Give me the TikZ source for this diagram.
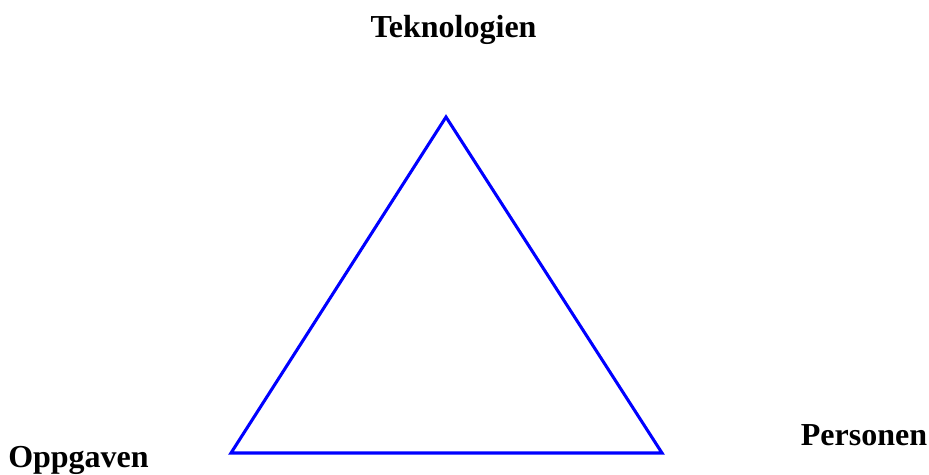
\documentclass[tikz,border=0pt]{standalone}
\usepackage{fontspec}
\setmainfont{Liberation Serif}
\begin{document}
\begin{tikzpicture}[
        x=0.75pt, y=-0.75pt,
        % Etiketter
        lbl/.style={
            anchor=base, inner sep=0pt,
            font=\fontsize{24}{28}\selectfont\bfseries
        },
        % Trekant
        tri/.style={draw=blue, line width=2.3pt, line join=miter}
    ]
        \useasboundingbox (0,0) rectangle (929,475);

        % Hjørner
        \coordinate (top) at (446,117);
        \coordinate (venstre) at (231,453);
        \coordinate (hoyre) at (662,453);

        % Tekster
        \node [lbl] (tek) at (453.5,37) {Teknologien};
        \node [lbl] (oppg) at (78.5,467) {Oppgaven};
        \node [lbl] (pers) at (864,445) {Personen};

        % Trekanten
        \draw [tri] (top) -- (hoyre) -- (venstre) -- cycle;

\end{tikzpicture}
\end{document}
